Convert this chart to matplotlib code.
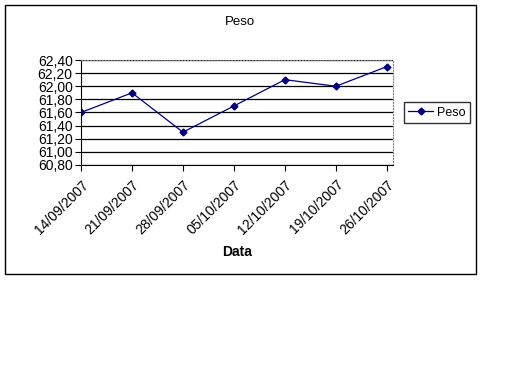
import matplotlib

matplotlib.use("Agg")
import matplotlib.pyplot as plt
from matplotlib.patches import Rectangle

dates = ["14/09/2007", "21/09/2007", "28/09/2007", "05/10/2007",
         "12/10/2007", "19/10/2007", "26/10/2007"]
peso = [61.6, 61.9, 61.3, 61.7, 62.1, 62.0, 62.3]
y_ticks = [60.8, 61.0, 61.2, 61.4, 61.6, 61.8, 62.0, 62.2, 62.4]

plt.rcParams["font.family"] = ["Liberation Sans", "DejaVu Sans"]

W, H = 512, 384
fig = plt.figure(figsize=(W / 100, H / 100), dpi=100)

# outer chart frame
fig.patches.append(Rectangle((5 / W, 1 - 274 / H), 471 / W, 269 / H,
                             transform=fig.transFigure, fill=False,
                             edgecolor="black", linewidth=1.0))

ax = fig.add_axes([81 / W, 1 - 165 / H, 312 / W, 105 / H])
x = list(range(len(dates)))
ax.plot(x, peso, color="#000080", linewidth=0.9, marker="D", markersize=3.5,
        label="Peso")

ax.set_xlim(0, 6.12)
ax.set_ylim(60.8, 62.4)
ax.set_yticks(y_ticks)
ax.set_yticklabels([f"{v:.2f}".replace(".", ",") for v in y_ticks], fontsize=10)
ax.set_xticks(x)
ax.set_xticklabels(dates, rotation=45, ha="right", va="top",
                   rotation_mode="anchor", fontsize=10)
ax.tick_params(axis="both", direction="out", length=4, width=0.8, color="black")
ax.tick_params(axis="x", pad=5)
ax.tick_params(axis="y", pad=2)
ax.yaxis.grid(True, color="black", linewidth=0.9)
ax.set_axisbelow(True)

for side in ("top", "right"):
    ax.spines[side].set_color("#808080")
    ax.spines[side].set_linestyle(":")
    ax.spines[side].set_linewidth(0.8)
ax.spines["left"].set_color("black")
ax.spines["bottom"].set_color("black")

fig.text(237 / W, 1 - 252 / H, "Data", ha="center", va="center",
         fontsize=10, fontweight="bold")
fig.text(240 / W, 1 - 22 / H, "Peso", ha="center", va="center", fontsize=9.5)

leg = ax.legend(loc="center left", bbox_to_anchor=(404 / W, 1 - 112.5 / H),
                bbox_transform=fig.transFigure, fontsize=9, frameon=True,
                fancybox=False, edgecolor="black", borderpad=0.35,
                handlelength=2.0, handletextpad=0.3, borderaxespad=0)
leg.get_frame().set_linewidth(1.0)

fig.savefig("out.png", dpi=100)
